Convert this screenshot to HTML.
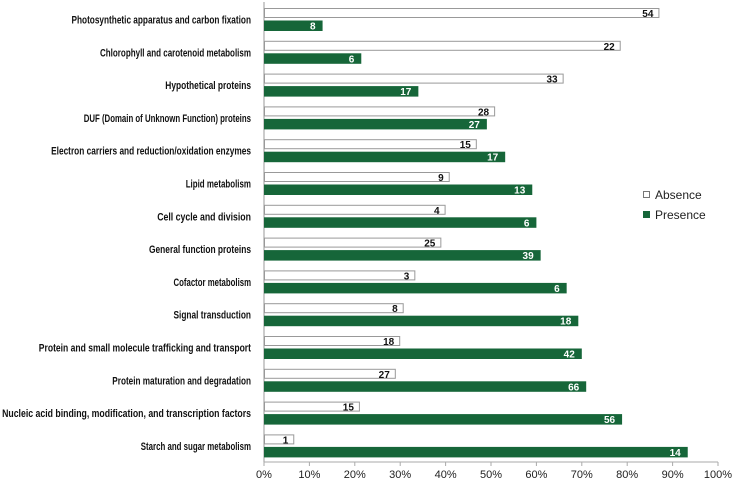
<!DOCTYPE html>
<html><head><meta charset="utf-8"><style>
html,body{margin:0;padding:0;background:#fff;}
svg{display:block;font-family:"Liberation Sans",sans-serif;}
</style></head><body>
<svg id="chart" width="740" height="481" viewBox="0 0 740 481"></svg>
<script>
const categories=["Photosynthetic apparatus and carbon fixation","Chlorophyll and carotenoid metabolism","Hypothetical proteins","DUF (Domain of Unknown Function) proteins","Electron carriers and reduction/oxidation enzymes","Lipid metabolism","Cell cycle and division","General function proteins","Cofactor metabolism","Signal transduction","Protein and small molecule trafficking and transport","Protein maturation and degradation","Nucleic acid binding, modification, and transcription factors","Starch and sugar metabolism"];
const absence=[54,22,33,28,15,9,4,25,3,8,18,27,15,1];
const presence=[8,6,17,27,17,13,6,39,6,18,42,66,56,14];
const ticks=[0,10,20,30,40,50,60,70,80,90,100];
const NS="http://www.w3.org/2000/svg";
const svg=document.getElementById('chart');
const x0=264,xw=454,y0=8,pitch=32.8;
const xs=p=>x0+p/100*xw;
const ys=i=>y0+i*pitch;
function mk(t,a,par){const e=document.createElementNS(NS,t);for(const k in a)e.setAttribute(k,a[k]);(par||svg).appendChild(e);return e;}
// axes
let ax=mk('line',{x1:x0,y1:2,x2:x0,y2:462,stroke:'#999','stroke-width':1});


let bx=mk('line',{x1:x0,y1:462,x2:xs(100),y2:462,stroke:'#aaa','stroke-width':1});


ticks.forEach(t=>{
  let tk=mk('line',{x1:xs(t),y1:462,x2:xs(t),y2:466,stroke:'#aaa'});
  
  
  let tl=mk('text',{x:xs(t),y:478,'text-anchor':'middle','font-size':11,fill:'#222'});
  tl.textContent=t+'%';
  
  
});
categories.forEach((c,i)=>{
  const tot=absence[i]+presence[i];
  const pa=absence[i]/tot*100,pp=presence[i]/tot*100;
  const y=ys(i);
  let lab=mk('text',{x:251,y:y+15.5,'text-anchor':'end','font-size':11,'font-weight':'bold',fill:'#111',textLength:(c.length*4.08).toFixed(1),lengthAdjust:'spacingAndGlyphs'});
  lab.textContent=c;
  
  
  let ra=mk('rect',{x:x0+0.5,y:y+0.5,width:xs(pa)-x0-1,height:9,fill:'#fff',stroke:'#999','stroke-width':1});
  
  
  let ta=mk('text',{x:xs(pa)-6,y:y+9,'text-anchor':'end','font-size':10,'font-weight':'bold',fill:'#111'});
  ta.textContent=absence[i];
  
  
  let rp=mk('rect',{x:x0,y:y+12.5,width:xs(pp)-x0,height:10.5,fill:'#166639'});
  
  
  let tp=mk('text',{x:xs(pp)-7,y:y+21.5,'text-anchor':'end','font-size':10,'font-weight':'bold',fill:'#fff'});
  tp.textContent=presence[i];
  
  
});
// legend
let lg=mk('g',{});


let l1=mk('rect',{x:643.5,y:191.5,width:6,height:6,fill:'#fff',stroke:'#777'},lg);


let l1t=mk('text',{x:655,y:199,'font-size':12,fill:'#222'},lg);
l1t.textContent='Absence';


let l2=mk('rect',{x:643,y:211,width:7,height:7,fill:'#166639'},lg);


let l2t=mk('text',{x:655,y:219,'font-size':12,fill:'#222'},lg);
l2t.textContent='Presence';


</script>
</body></html>
